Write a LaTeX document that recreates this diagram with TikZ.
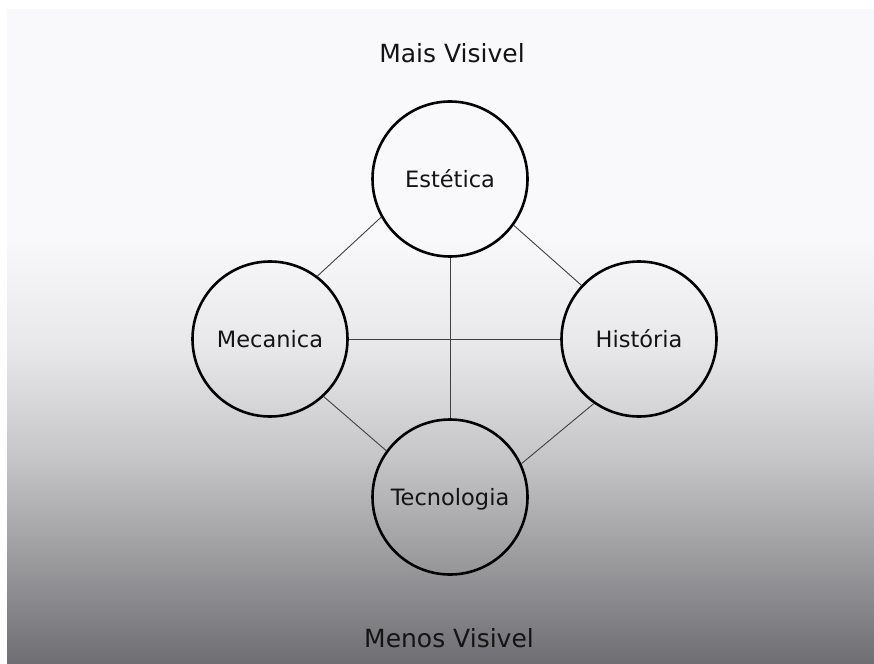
\documentclass[tikz,border=0pt]{standalone}
\usepackage{fontspec}
\setmainfont{DejaVu Sans}
\definecolor{gA}{HTML}{6F6F73}
\definecolor{gB}{HTML}{9B9B9E}
\definecolor{gC}{HTML}{C5C5C8}
\definecolor{gD}{HTML}{E7E7EA}
\definecolor{gE}{HTML}{F9F9FC}
\definecolor{txt}{HTML}{141414}
\definecolor{conn}{HTML}{404040}
\pgfdeclareverticalshading{bgshade}{100bp}{color(0bp)=(gA); color(25bp)=(gA); color(32.89bp)=(gB); color(40.62bp)=(gC); color(48.97bp)=(gD); color(57.69bp)=(gE); color(75bp)=(gE); color(100bp)=(gE)}
\begin{document}
\begin{tikzpicture}[x=1pt,y=-1pt,
  topic/.style={circle, draw=black, line width=2.6pt, minimum size=155pt, inner sep=0pt,
    font=\fontsize{22.5}{26}\selectfont, text=txt, text height=16.4pt, text depth=0pt},
  title/.style={anchor=base, font=\fontsize{25}{30}\selectfont, text=txt, inner sep=0pt},
  link/.style={draw=conn, line width=0.9pt}]
\useasboundingbox (0,0) rectangle (874,663);
\fill[white] (0,0) rectangle (874,663);
\shade[shading=bgshade] (7,10) rectangle (874,663);

\node[title] (top) at (452,63) {Mais Visivel};
\node[title] (bot) at (449,647) {Menos Visivel};

\node[topic] (E) at (450,179) {Estética};
\node[topic] (M) at (270,339) {Mecanica};
\node[topic] (H) at (639,339) {História};
\node[topic] (T) at (450,497) {Tecnologia};

\draw[link] (E.209) -- (M.53);
\draw[link] (E.324) -- (H.137);
\draw[link] (E.270) -- (T.90);
\draw[link] (M.east) -- (H.west);
\draw[link] (M.313) -- (T.144);
\draw[link] (H.235) -- (T.25);
\end{tikzpicture}
\end{document}
